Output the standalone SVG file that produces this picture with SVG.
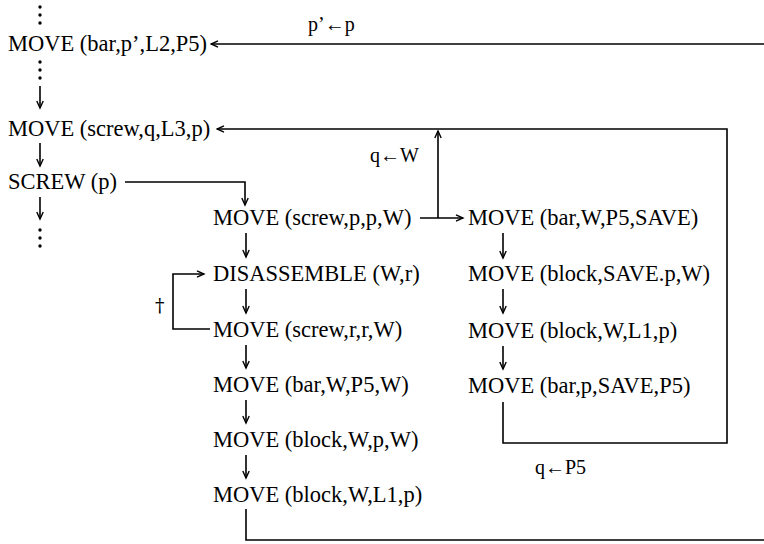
<svg xmlns="http://www.w3.org/2000/svg" width="764" height="544" viewBox="0 0 764 544">
<defs>
<marker id="ah" markerWidth="10" markerHeight="10" refX="8.5" refY="5" orient="auto" markerUnits="userSpaceOnUse">
<path d="M1.5,1.8 L8.5,5 L1.5,8.2" fill="none" stroke="#000" stroke-width="1.4"/>
</marker>
</defs>
<style>
text { font-family: "Liberation Serif", "Times New Roman", serif; font-size: 22.5px; fill: #000; }
.lbl { font-size: 20px; }
.dag { font-family: "DejaVu Serif", "Liberation Serif", serif; font-size: 19px; fill: #000; }
.c { fill: none; stroke: #000; stroke-width: 1.6; }
.a { marker-end: url(#ah); }
.dot { fill: #000; }
</style>
<rect width="764" height="544" fill="#fff"/>

<g id="n-dots-top"><circle class="dot" cx="40" cy="7" r="1.7"/><circle class="dot" cx="40" cy="15" r="1.7"/><circle class="dot" cx="40" cy="23" r="1.7"/></g>
<g id="n-move-bar-p2"><text x="8" y="51">MOVE (bar,p’,L2,P5)</text></g>
<g id="n-dots-mid"><circle class="dot" cx="40" cy="62" r="1.7"/><circle class="dot" cx="40" cy="70" r="1.7"/><circle class="dot" cx="40" cy="78" r="1.7"/></g>
<g id="n-move-screw-q"><text x="8" y="136">MOVE (screw,q,L3,p)</text></g>
<g id="n-screw"><text x="8" y="189">SCREW (p)</text></g>
<g id="n-dots-bot"><circle class="dot" cx="40" cy="230" r="1.7"/><circle class="dot" cx="40" cy="238" r="1.7"/><circle class="dot" cx="40" cy="246" r="1.7"/></g>

<g id="n-move-screw-ppw"><text x="213" y="225">MOVE (screw,p,p,W)</text></g>
<g id="n-disassemble"><text x="213" y="281">DISASSEMBLE (W,r)</text></g>
<g id="n-move-screw-rrw"><text x="213" y="337">MOVE (screw,r,r,W)</text></g>
<g id="n-move-bar-wp5w"><text x="213" y="392">MOVE (bar,W,P5,W)</text></g>
<g id="n-move-block-wpw"><text x="213" y="447">MOVE (block,W,p,W)</text></g>
<g id="n-move-block-wl1p-a"><text x="213" y="502">MOVE (block,W,L1,p)</text></g>

<g id="n-move-bar-wp5save"><text x="468" y="225">MOVE (bar,W,P5,SAVE)</text></g>
<g id="n-move-block-savepw"><text x="468" y="281">MOVE (block,SAVE.p,W)</text></g>
<g id="n-move-block-wl1p-b"><text x="468" y="338">MOVE (block,W,L1,p)</text></g>
<g id="n-move-bar-psavep5"><text x="468" y="393">MOVE (bar,p,SAVE,P5)</text></g>

<g id="labels">
<text class="lbl" x="308" y="31">p’←p</text>
<text class="lbl" x="370" y="162">q←W</text>
<text class="lbl" x="535" y="474">q←P5</text>
<text class="dag" x="155" y="312">†</text>
</g>

<g id="connectors">
<path class="c a" d="M764,44 H211"/>
<path class="c a" d="M40,86 V108"/>
<path class="c a" d="M40,143 V166"/>
<path class="c a" d="M40,197 V219"/>
<path class="c a" d="M125,182 H245 V205"/>
<path class="c a" d="M503,402 V443 H727 V129 H217"/>
<path class="c a" d="M438,218 V131"/>
<path class="c a" d="M420,218 H463"/>
<path class="c a" d="M246,233 V257"/>
<path class="c a" d="M246,289 V313"/>
<path class="c a" d="M246,345 V368"/>
<path class="c a" d="M246,400 V423"/>
<path class="c a" d="M246,455 V478"/>
<path class="c" d="M246,509 V540 H764"/>
<path class="c a" d="M210,329 H173 V274 H204"/>
<path class="c a" d="M503,233 V258"/>
<path class="c a" d="M503,289 V313"/>
<path class="c a" d="M503,346 V369"/>
</g>
</svg>
